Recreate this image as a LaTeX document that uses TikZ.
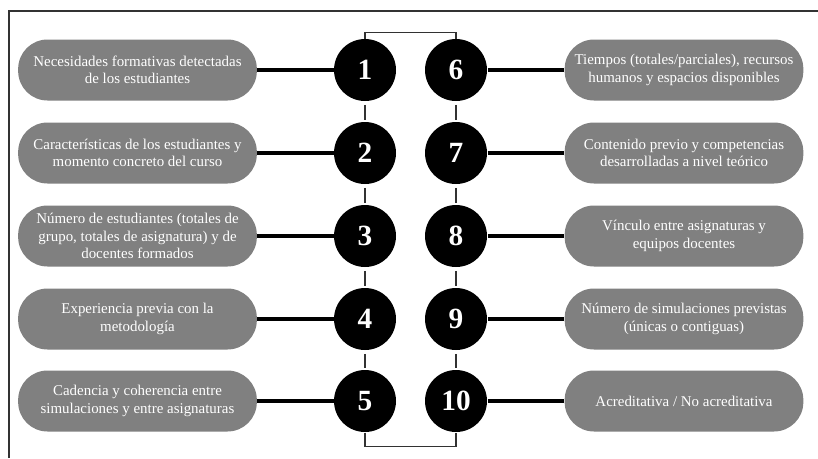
\documentclass[tikz,border=0pt]{standalone}
\usepackage{fontspec}
\setmainfont{Liberation Serif}

\definecolor{pillgray}{RGB}{128,128,128}
\definecolor{linegray}{RGB}{50,50,50}

\tikzset{every picture/.style={line width=0.75pt}}
\tikzset{
  pill/.style={fill=pillgray, text=white, rounded corners=22pt,
    minimum width=179pt, minimum height=45.75pt, align=center, inner sep=2pt, font=\fontsize{11.2}{13}\selectfont},
  numdot/.style={circle, fill=black, text=white, minimum size=46.5pt, inner sep=0pt, font=\fontsize{22}{22}\selectfont\bfseries},
  link/.style={line width=2.3pt, draw=black},
  chain/.style={line width=1.1pt, draw=linegray, shorten >=1.5pt, shorten <=2.5pt},
}

\begin{document}
\begin{tikzpicture}[x=0.75pt,y=0.75pt,yscale=-1,xscale=1]
	\useasboundingbox (0,0) rectangle (818,458);

	%Straight Lines: frame
	\draw [line width=1.1pt, draw=linegray] (9,458) -- (9,11) -- (818,11) ;

	% Text Node
	\node [pill] (p1) at (137.5,70) {Necesidades formativas detectadas\\de los estudiantes};
	\node [pill] (p2) at (137.5,153) {Características de los estudiantes y\\momento concreto del curso};
	\node [pill] (p3) at (137.5,236) {Número de estudiantes (totales de\\grupo, totales de asignatura) y de\\docentes formados};
	\node [pill] (p4) at (137.5,319) {Experiencia previa con la\\metodología};
	\node [pill] (p5) at (137.5,401) {Cadencia y coherencia entre\\simulaciones y entre asignaturas};

	% Text Node
	\node [pill] (p6) at (684,70) {Tiempos (totales/parciales), recursos\\humanos y espacios disponibles};
	\node [pill] (p7) at (684,153) {Contenido previo y competencias\\desarrolladas a nivel teórico};
	\node [pill] (p8) at (684,236) {Vínculo entre asignaturas y\\equipos docentes};
	\node [pill] (p9) at (684,319) {Número de simulaciones previstas\\(únicas o contiguas)};
	\node [pill] (p10) at (684,401) {Acreditativa / No acreditativa};

	% Numbered circles
	\node [numdot] (n1) at (365,70) {1};
	\node [numdot] (n2) at (365,153) {2};
	\node [numdot] (n3) at (365,236) {3};
	\node [numdot] (n4) at (365,319) {4};
	\node [numdot] (n5) at (365,401) {5};
	\node [numdot] (n6) at (456,70) {6};
	\node [numdot] (n7) at (456,153) {7};
	\node [numdot] (n8) at (456,236) {8};
	\node [numdot] (n9) at (456,319) {9};
	\node [numdot] (n10) at (456,401) {10};

	%Straight Lines
	\draw [link] (p1.east) -- (n1.west) ;
	\draw [link] (p2.east) -- (n2.west) ;
	\draw [link] (p3.east) -- (n3.west) ;
	\draw [link] (p4.east) -- (n4.west) ;
	\draw [link] (p5.east) -- (n5.west) ;
	\draw [link] (n6.east) -- (p6.west) ;
	\draw [link] (n7.east) -- (p7.west) ;
	\draw [link] (n8.east) -- (p8.west) ;
	\draw [link] (n9.east) -- (p9.west) ;
	\draw [link] (n10.east) -- (p10.west) ;

	%Straight Lines: chain
	\draw [chain] (n1) -- (n2) ;
	\draw [chain] (n2) -- (n3) ;
	\draw [chain] (n3) -- (n4) ;
	\draw [chain] (n4) -- (n5) ;
	\draw [chain] (n6) -- (n7) ;
	\draw [chain] (n7) -- (n8) ;
	\draw [chain] (n8) -- (n9) ;
	\draw [chain] (n9) -- (n10) ;
	\draw [chain, shorten <=0pt, shorten >=0pt] (n1.north) -- ++(0,-6) -| (n6.north) ;
	\draw [chain, shorten <=0pt, shorten >=0pt] (n5.south) -- ++(0,14) -| (n10.south) ;

\end{tikzpicture}
\end{document}
